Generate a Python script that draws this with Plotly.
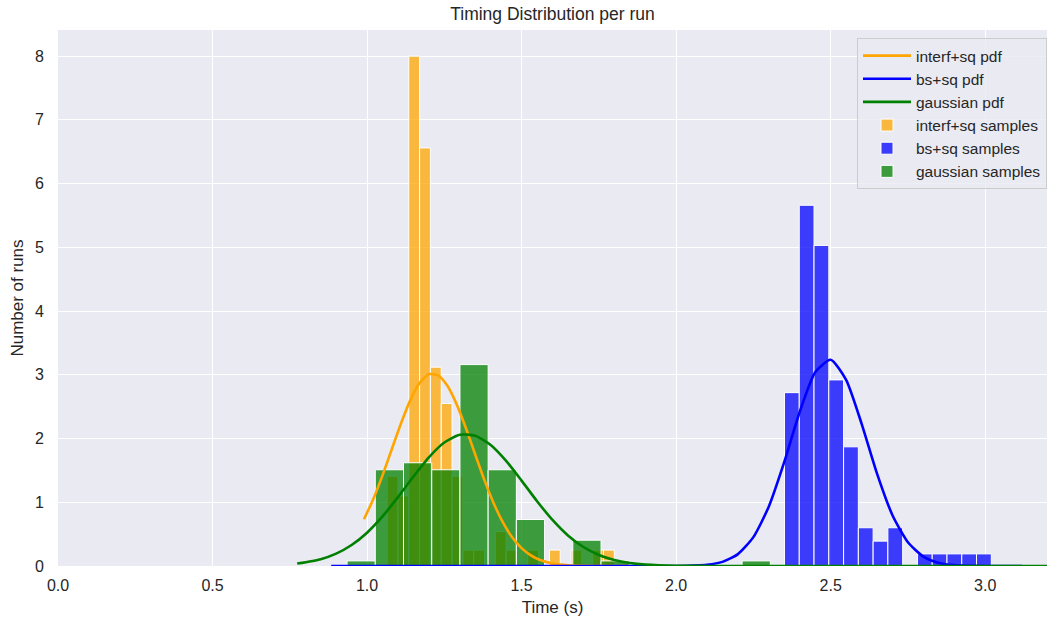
import plotly.graph_objects as go

# ---------------- data ----------------
# histogram bins (density heights)
orange_bin_start = 1.065
orange_bin_width = 0.035
orange_heights = [1.41, 1.10, 8.00, 6.56, 3.12, 2.55, 1.41, 0.25, 0.25, 0.0,
                  0.54, 0.25, 0.0, 0.25, 0.0, 0.25, 0.0, 0.25, 0.0, 0.25, 0.25]

blue_bin_start = 2.3506
blue_bin_width = 0.0478
blue_heights = [2.72, 5.66, 5.03, 2.92, 1.87, 0.60, 0.39, 0.60, 0.0,
                0.19, 0.19, 0.19, 0.19, 0.19]

green_bin_start = 0.9353
green_bin_width = 0.0913
green_heights = [0.08, 1.51, 1.62, 1.51, 3.16, 1.51, 0.73, 0.0, 0.405, 0.08,
                 0.0, 0.0, 0.0, 0.0, 0.08]

# pdf curves
orange_pdf_x = [0.99, 1.02, 1.05, 1.08, 1.11, 1.14, 1.17, 1.20, 1.23, 1.26, 1.29,
                1.32, 1.35, 1.38, 1.41, 1.44, 1.47, 1.50, 1.53, 1.56, 1.60, 1.65,
                1.70, 1.80, 1.85]
orange_pdf_y = [0.734, 1.048, 1.422, 1.832, 2.240, 2.603, 2.871, 3.008, 2.992, 2.827,
                2.536, 2.161, 1.749, 1.343, 0.981, 0.680, 0.447, 0.280, 0.166, 0.093,
                0.040, 0.012, 0.003, 0.0, 0.0]

blue_pdf_x = [0.884, 1.5, 2.00, 2.10, 2.15, 2.20, 2.25, 2.30, 2.35, 2.40, 2.45, 2.50,
              2.55, 2.60, 2.65, 2.70, 2.75, 2.80, 2.85, 2.90, 3.00, 3.12]
blue_pdf_y = [0.0, 0.0, 0.001, 0.019, 0.065, 0.186, 0.453, 0.934, 1.633, 2.420, 3.039,
              3.236, 2.921, 2.235, 1.450, 0.797, 0.372, 0.147, 0.049, 0.014, 0.0, 0.0]

green_pdf_x = [0.774, 0.85, 0.90, 0.95, 1.00, 1.05, 1.10, 1.15, 1.20, 1.25, 1.30,
               1.35, 1.40, 1.45, 1.50, 1.55, 1.60, 1.65, 1.70, 1.75, 1.80, 1.85,
               1.90, 2.00, 2.10, 2.30, 3.30]
green_pdf_y = [0.038, 0.107, 0.194, 0.329, 0.523, 0.778, 1.081, 1.404, 1.706, 1.938,
               2.059, 2.045, 1.900, 1.650, 1.340, 1.017, 0.723, 0.480, 0.298, 0.173,
               0.094, 0.048, 0.023, 0.004, 0.001, 0.0, 0.0]

x_ticks = [0.0, 0.5, 1.0, 1.5, 2.0, 2.5, 3.0]
y_ticks = [0, 1, 2, 3, 4, 5, 6, 7, 8]

# ---------------- figure ----------------
FONT = "Liberation Sans, Arial, sans-serif"
TXT = "#262626"
FIG_W, FIG_H = 1047, 626


def centers(start, width, n):
    return [start + width * (i + 0.5) for i in range(n)]


fig = go.Figure()

line_specs = [
    ("interf+sq pdf", orange_pdf_x, orange_pdf_y, "#FFA500"),
    ("bs+sq pdf", blue_pdf_x, blue_pdf_y, "#0000FF"),
    ("gaussian pdf", green_pdf_x, green_pdf_y, "#008000"),
]
for name, xs, ys, col in line_specs:
    fig.add_trace(go.Scatter(
        x=xs, y=ys, mode="lines", name=name,
        line=dict(color=col, width=2.6, shape="spline", smoothing=0.6),
    ))

bar_specs = [
    ("interf+sq samples", orange_bin_start, orange_bin_width, orange_heights, "rgba(255,165,0,0.75)"),
    ("bs+sq samples", blue_bin_start, blue_bin_width, blue_heights, "rgba(0,0,255,0.75)"),
    ("gaussian samples", green_bin_start, green_bin_width, green_heights, "rgba(0,128,0,0.75)"),
]
for name, start, width, heights, col in bar_specs:
    fig.add_trace(go.Bar(
        x=centers(start, width, len(heights)), y=heights, width=width,
        name=name,
        marker=dict(color=col, line=dict(color="white", width=1)),
    ))

fig.update_layout(
    width=FIG_W, height=FIG_H,
    barmode="overlay",
    paper_bgcolor="white",
    plot_bgcolor="#EAEAF2",
    margin=dict(l=58, r=0, t=30, b=60),
    font=dict(family=FONT, color=TXT, size=16),
    title=dict(text="Timing Distribution per run", x=0.5, xref="paper",
               y=1 - 14 / FIG_H, yref="container", yanchor="middle",
               font=dict(size=17.5, color=TXT)),
    showlegend=True,
    legend=dict(
        x=1.0, xanchor="right", y=0.985, yanchor="top",
        bgcolor="rgba(234,234,242,0.8)", bordercolor="#CCCCCC", borderwidth=1,
        font=dict(size=15.5, color=TXT), itemwidth=48,
        traceorder="normal",
    ),
)
fig.update_xaxes(
    range=[0, 3.2], tickvals=x_ticks, ticktext=[f"{v:.1f}" for v in x_ticks],
    showgrid=True, gridcolor="white", gridwidth=1.3, zeroline=False,
    showline=False, ticks="outside", ticklen=5, tickcolor="rgba(0,0,0,0)",
    tickfont=dict(size=16),
    title=dict(text="Time (s)", font=dict(size=17), standoff=7),
)
fig.update_yaxes(
    range=[0, 8.41], tickvals=y_ticks,
    showgrid=True, gridcolor="white", gridwidth=1.3, zeroline=False,
    showline=False, ticks="outside", ticklen=10, tickcolor="rgba(0,0,0,0)",
    tickfont=dict(size=16),
    title=dict(text="Number of runs", font=dict(size=17), standoff=6),
)

fig.write_html("out.html", config={"displayModeBar": False},
               post_script="document.body.style.margin='0';")
